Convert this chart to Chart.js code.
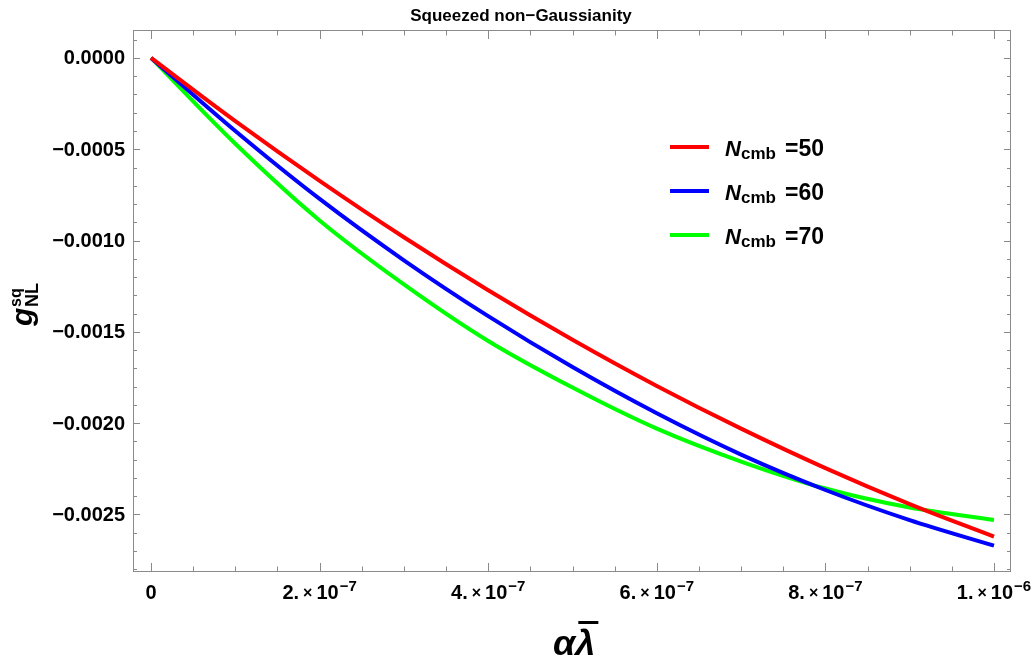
<!DOCTYPE html>
<html>
<head>
<meta charset="utf-8">
<script src="https://cdn.jsdelivr.net/npm/chart.js"></script>
<style>
  html, body { margin: 0; padding: 0; background: #fff; }
</style>
</head>
<body>
<canvas id="sqChart" width="1036" height="665"></canvas>
<script>
  // values
  const alphaLambda = [0, 1e-7, 2e-7, 3e-7, 4e-7, 5e-7, 6e-7, 7e-7, 8e-7, 9e-7, 1e-6];
  const gN50 = [0, -0.000346, -0.000673, -0.000982, -0.001272, -0.001543, -0.001796, -0.002030, -0.002246, -0.002443, -0.002621];
  const gN60 = [0, -0.000400, -0.000772, -0.001108, -0.001414, -0.001693, -0.001946, -0.002172, -0.002366, -0.002531, -0.002671];
  const gN70 = [0, -0.000470, -0.000890, -0.001240, -0.001550, -0.001805, -0.002030, -0.002210, -0.002358, -0.002462, -0.002530];
  const nCmb = ["50", "60", "70"];
  const lineColors = ["#ff0000", "#0000ff", "#00ff00"];

  const xTickValues = [0, 2e-7, 4e-7, 6e-7, 8e-7, 1e-6];
  const xTickMant = ["0", "2.", "4.", "6.", "8.", "1."];
  const xTickExp = ["", "\u22127", "\u22127", "\u22127", "\u22127", "\u22126"];
  const yTickValues = [0, -0.0005, -0.0010, -0.0015, -0.0020, -0.0025];
  const yTickLabels = ["0.0000", "\u22120.0005", "\u22120.0010", "\u22120.0015", "\u22120.0020", "\u22120.0025"];

  const FONT = '"Liberation Sans", Arial, sans-serif';
  const FRAME = "#8a8a8a";

  const framePlugin = {
    id: "frame",
    beforeDatasetsDraw(chart) {
      const { ctx, chartArea: a, scales: { x, y } } = chart;
      ctx.save();
      ctx.strokeStyle = FRAME;
      ctx.lineWidth = 1;
      ctx.strokeRect(a.left + 0.5, a.top + 0.5, a.right - a.left - 1, a.bottom - a.top - 1);
      ctx.beginPath();
      // x ticks every 5e-8, major every 2e-7
      for (let i = 0; i <= 20; i++) {
        const px = Math.round(x.getPixelForValue(i * 5e-8)) + 0.5;
        const len = i % 4 === 0 ? 9 : 5.5;
        ctx.moveTo(px, a.bottom); ctx.lineTo(px, a.bottom - len);
        ctx.moveTo(px, a.top); ctx.lineTo(px, a.top + len);
      }
      // y ticks every 1e-4, major every 5e-4
      for (let i = -28; i <= 1; i++) {
        const py = Math.round(y.getPixelForValue(i * 1e-4)) + 0.5;
        const len = i % 5 === 0 ? 7 : 4;
        ctx.moveTo(a.left, py); ctx.lineTo(a.left + len, py);
        ctx.moveTo(a.right, py); ctx.lineTo(a.right - len, py);
      }
      ctx.stroke();
      ctx.restore();
    },
    afterDraw(chart) {
      const { ctx, chartArea: a, scales: { x, y } } = chart;
      ctx.save();
      ctx.fillStyle = "#000";

      // title
      ctx.font = "bold 17px " + FONT;
      ctx.textAlign = "center";
      ctx.textBaseline = "alphabetic";
      ctx.fillText("Squeezed non\u2212Gaussianity", 521, 21);

      // y tick labels
      ctx.font = "bold 20px " + FONT;
      ctx.textAlign = "right";
      ctx.textBaseline = "middle";
      yTickValues.forEach((v, i) => {
        ctx.fillText(yTickLabels[i], a.left - 8, y.getPixelForValue(v) + 1);
      });

      // x tick labels: mantissa × 10^exp
      ctx.textAlign = "left";
      ctx.textBaseline = "alphabetic";
      xTickValues.forEach((v, i) => {
        const px = x.getPixelForValue(v);
        const parts = xTickExp[i]
          ? [[xTickMant[i], 20, 0, 4], ["\u00d7", 16, -1, 4], ["10", 20, 0, 1], [xTickExp[i], 15, -8, 0]]
          : [[xTickMant[i], 20, 0, 0]];
        let w = 0;
        parts.forEach(p => { ctx.font = "bold " + p[1] + "px " + FONT; p.w = ctx.measureText(p[0]).width; w += p.w + p[3]; });
        let cx = px - w / 2;
        parts.forEach(p => {
          ctx.font = "bold " + p[1] + "px " + FONT;
          ctx.fillText(p[0], cx, 599 + p[2]);
          cx += p.w + p[3];
        });
      });

      // x axis label: alpha lambda-bar
      ctx.font = "italic bold 36px " + FONT;
      const wa = ctx.measureText("\u03b1").width;
      const wl = ctx.measureText("\u03bb").width;
      const lx = 553;
      ctx.fillText("\u03b1", lx, 655);
      ctx.fillText("\u03bb", lx + wa, 655);
      ctx.fillRect(lx + wa + 3, 621, wl, 3);

      // y axis label: g^sq_NL rotated
      ctx.save();
      ctx.translate(32, 303);
      ctx.rotate(-Math.PI / 2);
      ctx.font = "italic bold 30px " + FONT;
      ctx.fillText("g", -23, 0);
      ctx.font = "bold 16px " + FONT;
      ctx.fillText("sq", -4, -11);
      ctx.font = "bold 18px " + FONT;
      ctx.fillText("NL", -4, 6);
      ctx.restore();

      // legend
      chart.data.datasets.forEach((ds, i) => {
        const cy = 147 + 44 * i;
        ctx.strokeStyle = ds.borderColor;
        ctx.lineWidth = 4;
        ctx.beginPath();
        ctx.moveTo(670, cy); ctx.lineTo(709, cy);
        ctx.stroke();
        ctx.font = "italic bold 22px " + FONT;
        ctx.fillText("N", 725, cy + 9);
        ctx.font = "bold 17px " + FONT;
        ctx.fillText("cmb", 741, cy + 12);
        ctx.font = "bold 23px " + FONT;
        ctx.fillText("=" + nCmb[i], 785, cy + 9);
      });
      ctx.restore();
    }
  };

  const series = [gN50, gN60, gN70];
  const ctx = document.getElementById("sqChart").getContext("2d");
  new Chart(ctx, {
    type: "line",
    data: {
      datasets: series.map((vals, i) => ({
        label: "N_cmb=" + nCmb[i],
        data: alphaLambda.map((a, j) => ({ x: a, y: vals[j] })),
        borderColor: lineColors[i],
        borderWidth: 4,
        pointRadius: 0,
        fill: false,
        cubicInterpolationMode: "monotone"
      }))
    },
    options: {
      responsive: false,
      animation: false,
      layout: { padding: { left: 133, right: 25, top: 30, bottom: 93 } },
      plugins: { legend: { display: false }, tooltip: { enabled: false }, title: { display: false } },
      scales: {
        x: { type: "linear", display: false, min: -2.14e-8, max: 1.0202e-6 },
        y: { type: "linear", display: false, min: -0.002815, max: 0.000153 }
      }
    },
    plugins: [framePlugin]
  });
</script>
</body>
</html>
